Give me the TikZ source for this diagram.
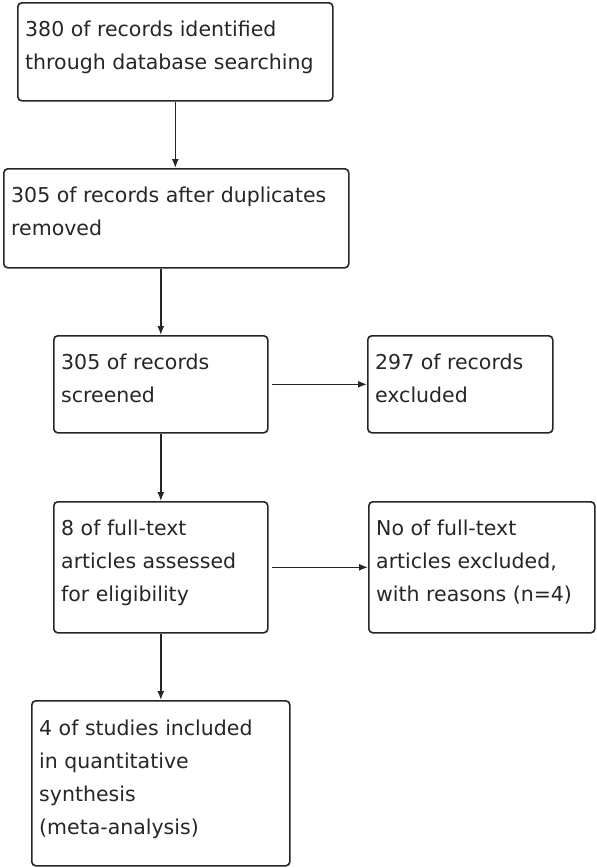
\documentclass[tikz,border=0pt]{standalone}
\usepackage{fontspec}
\setmainfont{DejaVu Sans}
\usetikzlibrary{arrows.meta,calc}
\begin{document}
\begin{tikzpicture}[x=1pt,y=-1pt,
  box/.style={draw=black!85, line width=1.6pt, rounded corners=4pt, anchor=north west, inner sep=0pt},
  txt/.style={anchor=north west, align=left, inner sep=0pt, text=black!85, font=\fontsize{20.5}{33}\selectfont},
  arr/.style={draw=black!85, line width=1.5pt, -{Latex[length=9pt,width=7pt]}}]
\useasboundingbox (0,0) rectangle (597,868);
\node[box, minimum width=315pt, minimum height=98pt] (b1) at (17,2) {};
\node[box, minimum width=345pt, minimum height=99pt] (b2) at (3,168) {};
\node[box, minimum width=214pt, minimum height=97pt] (b3) at (53,335) {};
\node[box, minimum width=185pt, minimum height=97pt] (b4) at (367,335) {};
\node[box, minimum width=214pt, minimum height=131pt] (b5) at (53,501) {};
\node[box, minimum width=226pt, minimum height=131pt] (b6) at (368,501) {};
\node[box, minimum width=258pt, minimum height=165pt] (b7) at (31,700) {};
\node[txt] (t1) at ($(b1.north west)+(8,19)$) {380 of records identified\\through database searching};
\node[txt] (t2) at ($(b2.north west)+(8,19)$) {305 of records after duplicates\\removed};
\node[txt] (t3) at ($(b3.north west)+(8,19)$) {305 of records\\screened};
\node[txt] (t4) at ($(b4.north west)+(8,19)$) {297 of records\\excluded};
\node[txt] (t5) at ($(b5.north west)+(8,19)$) {8 of full-text\\articles assessed\\for eligibility};
\node[txt] (t6) at ($(b6.north west)+(8,19)$) {No of full-text\\articles excluded,\\with reasons (n=4)};
\node[txt] (t7) at ($(b7.north west)+(8,20)$) {4 of studies included\\in quantitative\\synthesis\\(meta-analysis)};
\draw[arr] (b1.south) -- (b1.south |- b2.north);
\draw[arr] (b3.north |- b2.south) -- (b3.north);
\draw[arr] (b3.south) -- (b5.north);
\draw[arr] (b5.south) -- (b7.north);
\draw[arr] ([xshift=3pt]b3.east) -- (b3.east -| b4.west);
\draw[arr] ([xshift=3pt]b5.east) -- (b5.east -| b6.west);
\end{tikzpicture}
\end{document}
